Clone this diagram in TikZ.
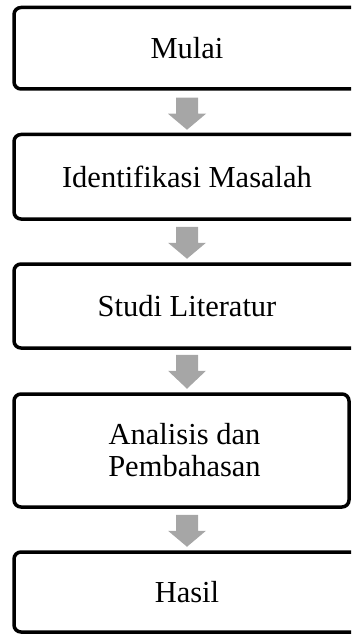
\documentclass[tikz,border=0pt]{standalone}
\usepackage{fontspec}
\setmainfont{Liberation Serif}
\usetikzlibrary{calc}
\definecolor{arrowgray}{HTML}{A6A6A6}
\tikzset{
  stepbox/.style={draw=black, line width=3.5pt, rounded corners=7pt, fill=white,
    align=center, inner sep=0pt, font=\fontsize{30.5}{32}\selectfont, text=black},
  flowarrow/.style={fill=arrowgray, draw=none}
}
\begin{document}
\begin{tikzpicture}[x=1pt,y=1pt]
\useasboundingbox (0,0) rectangle (351,-636);
\clip (0,0) rectangle (351,-636);
\node[stepbox, minimum width=346pt, minimum height=81.5pt] (b1) at (187,-48.25) {Mulai};
\node[stepbox, minimum width=346pt, minimum height=84.5pt] (b2) at (187,-176.75) {Identifikasi Masalah};
\node[stepbox, minimum width=346pt, minimum height=84pt] (b3) at (187,-306) {Studi Literatur};
\node[stepbox, minimum width=335pt, minimum height=113pt] (b4) at (181.5,-450.5) {\hspace*{6pt}Analisis dan\\\hspace*{6pt}Pembahasan};
\node[stepbox, minimum width=346pt, minimum height=80pt] (b5) at (187,-592) {Hasil};
\fill[flowarrow] ($(b1.south)+(-11pt,-7pt)$) -- ($(b1.south)+(11pt,-7pt)$)
    -- ($(b1.south)+(11pt,-23pt)$) -- ($(b1.south)+(19pt,-23pt)$)
    -- ($(b1.south)+(0pt,-39pt)$)
    -- ($(b1.south)+(-19pt,-23pt)$) -- ($(b1.south)+(-11pt,-23pt)$) -- cycle;
\fill[flowarrow] ($(b2.south)+(-11pt,-6pt)$) -- ($(b2.south)+(11pt,-6pt)$)
    -- ($(b2.south)+(11pt,-22pt)$) -- ($(b2.south)+(19pt,-22pt)$)
    -- ($(b2.south)+(0pt,-38pt)$)
    -- ($(b2.south)+(-19pt,-22pt)$) -- ($(b2.south)+(-11pt,-22pt)$) -- cycle;
\fill[flowarrow] ($(b3.south)+(-11pt,-5pt)$) -- ($(b3.south)+(11pt,-5pt)$)
    -- ($(b3.south)+(11pt,-21pt)$) -- ($(b3.south)+(19pt,-21pt)$)
    -- ($(b3.south)+(0pt,-39pt)$)
    -- ($(b3.south)+(-19pt,-21pt)$) -- ($(b3.south)+(-11pt,-21pt)$) -- cycle;
\fill[flowarrow] ($(b4.south)+(-11pt+5.5pt,-6pt)$) -- ($(b4.south)+(11pt+5.5pt,-6pt)$)
    -- ($(b4.south)+(11pt+5.5pt,-22pt)$) -- ($(b4.south)+(19pt+5.5pt,-22pt)$)
    -- ($(b4.south)+(5.5pt,-38pt)$)
    -- ($(b4.south)+(-19pt+5.5pt,-22pt)$) -- ($(b4.south)+(-11pt+5.5pt,-22pt)$) -- cycle;
\end{tikzpicture}
\end{document}
